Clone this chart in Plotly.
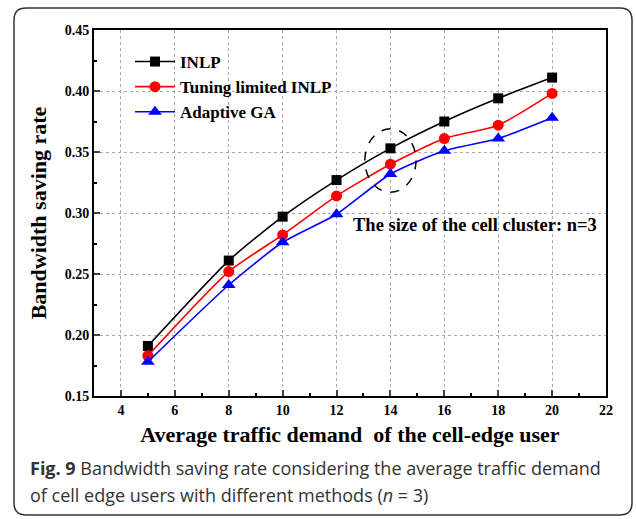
import plotly.graph_objects as go

demand = [5, 8, 10, 12, 14, 16, 18, 20]
inlp = [0.191, 0.261, 0.297, 0.327, 0.353, 0.375, 0.394, 0.411]
tuning = [0.183, 0.252, 0.282, 0.314, 0.340, 0.361, 0.372, 0.398]
adaptive = [0.178, 0.241, 0.276, 0.299, 0.332, 0.351, 0.361, 0.378]

series_names = ["INLP", "Tuning limited INLP", "Adaptive GA"]
colors = ["black", "red", "blue"]
symbols = ["square", "circle", "triangle-up"]
msizes = [10, 11, 12]

x_ticks = list(range(4, 23, 2))
y_ticks = [0.15, 0.20, 0.25, 0.30, 0.35, 0.40, 0.45]

W, H = 636, 519
L, R, T, B = 94, 30, 30, 123
pw, ph = W - L - R, H - T - B

def px(x):
    return (x - L) / pw

def py(y):
    return (H - B - y) / ph

fig = go.Figure()
for name, vals, c, s, ms in zip(series_names, [inlp, tuning, adaptive], colors, symbols, msizes):
    fig.add_trace(go.Scatter(
        x=demand, y=vals, name=f"<b>{name}</b>", mode="lines+markers",
        line=dict(color=c, width=1.6, shape="spline", smoothing=0.6),
        marker=dict(symbol=s, size=ms, color=c),
    ))

tickfont = dict(family="Liberation Serif", size=14, color="black")
fig.update_xaxes(
    range=[3, 22], tickvals=x_ticks, ticktext=[f"<b>{v}</b>" for v in x_ticks],
    ticks="inside", ticklen=6, tickwidth=2,
    showline=True, linewidth=2, linecolor="black", mirror=True,
    showgrid=True, gridcolor="#aaaaaa", griddash="dot", gridwidth=1, zeroline=False,
    minor=dict(dtick=1, tick0=3, ticks="inside", ticklen=3, tickwidth=1.5, tickcolor="black", showgrid=False),
    tickfont=tickfont,
    title=dict(text="<b>Average traffic demand  of the cell-edge user</b>",
               font=dict(family="Liberation Serif", size=22, color="black"), standoff=10),
)
fig.update_yaxes(
    range=[0.15, 0.45], tickvals=y_ticks, ticktext=[f"<b>{v:.2f}</b>" for v in y_ticks],
    ticks="inside", ticklen=6, tickwidth=2,
    showline=True, linewidth=2, linecolor="black", mirror=True,
    showgrid=True, gridcolor="#aaaaaa", griddash="dot", gridwidth=1, zeroline=False,
    minor=dict(dtick=0.025, tick0=0.15, ticks="inside", ticklen=3, tickwidth=1.5, tickcolor="black", showgrid=False),
    tickfont=tickfont,
    title=dict(text="<b>Bandwidth saving rate</b>",
               font=dict(family="Liberation Serif", size=22, color="black"), standoff=12),
)

# rounded outer border
x0, x1, y0, y1 = px(14), px(632), py(515), py(8)
rx, ry = 12 / pw, 12 / ph
path = (f"M {x0+rx},{y1} L {x1-rx},{y1} Q {x1},{y1} {x1},{y1-ry} "
        f"L {x1},{y0+ry} Q {x1},{y0} {x1-rx},{y0} L {x0+rx},{y0} Q {x0},{y0} {x0},{y0+ry} "
        f"L {x0},{y1-ry} Q {x0},{y1} {x0+rx},{y1} Z")
fig.add_shape(type="path", path=path, xref="paper", yref="paper",
              line=dict(color="#333333", width=1.5), layer="below")

# dashed ellipse highlight
fig.add_shape(type="circle", xref="x", yref="y", x0=13.05, x1=14.95, y0=0.317, y1=0.369,
              line=dict(color="black", width=1.5, dash="dash"))

fig.add_annotation(x=px(351), y=py(225), xref="paper", yref="paper", xanchor="left", yanchor="middle",
                   text="<b>The size of the cell cluster: n=3</b>", showarrow=False,
                   font=dict(family="Liberation Serif", size=18.5, color="black"))

cap_font = dict(family="Open Sans", size=18, color="#333333")
fig.add_annotation(x=px(28), y=py(468), xref="paper", yref="paper", xanchor="left", yanchor="middle",
                   text="<b>Fig. 9</b> Bandwidth saving rate considering the average traffic demand",
                   showarrow=False, font=cap_font)
fig.add_annotation(x=px(28), y=py(495), xref="paper", yref="paper", xanchor="left", yanchor="middle",
                   text="of cell edge users with different methods (<i>n</i> = 3)",
                   showarrow=False, font=cap_font)

fig.update_layout(
    width=W, height=H, margin=dict(l=L, r=R, t=T, b=B),
    paper_bgcolor="white", plot_bgcolor="white",
    showlegend=True,
    legend=dict(x=px(130), y=py(44), xanchor="left", yanchor="top", bgcolor="rgba(0,0,0,0)",
                font=dict(family="Liberation Serif", size=17, color="black"),
                tracegroupgap=0, itemwidth=40, traceorder="normal"),
)

fig.write_html("out.html")
